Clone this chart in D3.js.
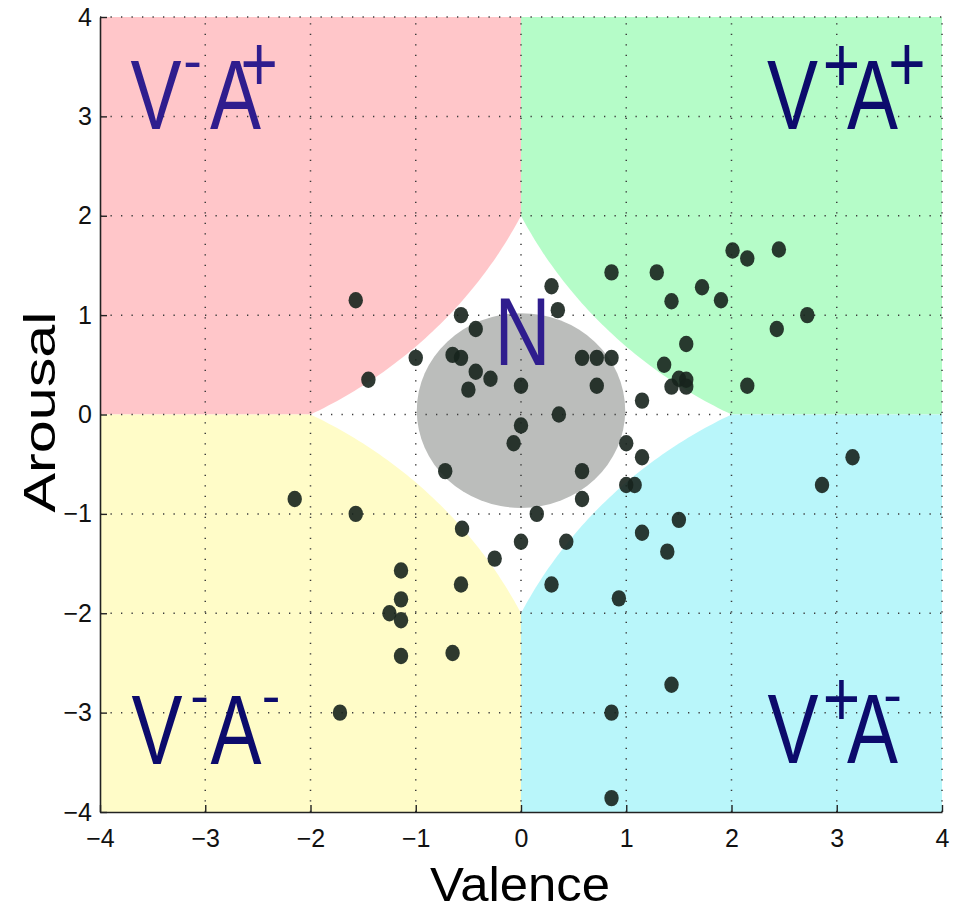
<!DOCTYPE html>
<html>
<head>
<meta charset="utf-8">
<script src="https://cdn.jsdelivr.net/npm/d3@7"></script>
<style>
  body { margin: 0; background: #fff; }
  text { font-family: "Liberation Sans", Arial, sans-serif; }
</style>
</head>
<body>
<script>
// valence / arousal of each sample
const valence = [-1.57, -1.45, -1.0, -0.57, -0.43, -0.65, -0.57, -0.43, -0.29, -0.50,
  0.0, 0.29, 0.35, 0.58, 0.72, 0.86, 0.72, 1.15, 0.36, 0.0,
  -0.07, -0.72, 0.58, 1.0, 1.15, 1.0, 1.08, 0.58, 0.15, -0.56,
  0.0, 0.43, 1.15, -0.25, 0.29, -0.57, -1.14, -1.14, 0.93, -1.57,
  -2.15, -1.25, -1.14, -1.14, -0.65, -1.72, 0.86, 1.29, 2.01, 2.15,
  2.45, 1.72, 1.43, 1.90, 2.72, 2.43, 1.57, 1.36, 1.50, 1.57,
  1.43, 1.57, 2.15, 3.15, 2.86, 1.50, 1.39, 1.43, 0.86, 0.86]
const arousal = [1.15, 0.35, 0.57, 1.0, 0.86, 0.60, 0.57, 0.43, 0.36, 0.25,
  0.29, 1.29, 1.05, 0.57, 0.57, 0.57, 0.29, 0.14, 0.0, -0.11,
  -0.29, -0.57, -0.57, -0.29, -0.43, -0.71, -0.71, -0.85, -1.0, -1.15,
  -1.28, -1.28, -1.19, -1.45, -1.71, -1.71, -1.57, -1.86, -1.85, -1.0,
  -0.85, -2.0, -2.07, -2.43, -2.40, -3.0, 1.43, 1.43, 1.65, 1.57,
  1.66, 1.28, 1.14, 1.15, 1.0, 0.86, 0.71, 0.50, 0.36, 0.35,
  0.28, 0.28, 0.29, -0.43, -0.71, -1.06, -1.38, -2.72, -3.0, -3.86]

const ticks = [-4, -3, -2, -1, 0, 1, 2, 3, 4]

// quadrants: sign of valence, sign of arousal
const quadSx = [-1, 1, -1, 1]
const quadSy = [1, 1, -1, -1]
const quadColors = ["#ffc6c9", "#b5fcc8", "#fffcc8", "#b9f6fa"]
const quadSup1 = ["-", "+", "-", "+"]
const quadSup2 = ["+", "+", "-", "-"]

const W = 959, H = 911
const m = {left: 100, right: 17, top: 17, bottom: 99}

const svg = d3.select("body").append("svg").attr("width", W).attr("height", H)

const x = d3.scaleLinear().domain([-4, 4]).range([m.left, W - m.right])
const y = d3.scaleLinear().domain([-4, 4]).range([H - m.bottom, m.top])

// coloured quadrants, each cut by a circle around its outer corner
const R = Math.sqrt(20)
const line = d3.line().x(d => x(d[0])).y(d => y(d[1]))
for (let i = 0; i < 4; i++) {
    let sx = quadSx[i], sy = quadSy[i]
    let cx = sx * 4, cy = sy * 4
    let pts = [[cx, cy], [0, cy]]
    let a0 = Math.atan2(-2 * sy, -4 * sx)
    let a1 = Math.atan2(-4 * sy, -2 * sx)
    for (let k = 0; k <= 60; k++) {
        let a = a0 + (a1 - a0) * k / 60
        pts.push([cx + R * Math.cos(a), cy + R * Math.sin(a)])
    }
    pts.push([cx, 0])
    svg.append("path").attr("d", line(pts) + "Z").attr("fill", quadColors[i])
}

// neutral disc
svg.append("ellipse")
    .attr("cx", x(0)).attr("cy", y(0.04))
    .attr("rx", x(0.99) - x(0)).attr("ry", y(0) - y(0.98))
    .attr("fill", "#bbbdbb")

// dotted grid
const grid = svg.append("g").attr("stroke", "#3a3a3a").attr("stroke-width", 1.5)
    .attr("stroke-dasharray", "1.3,9.2")
grid.selectAll(".gx").data(ticks.slice(1)).join("line")
    .attr("x1", d => x(d)).attr("x2", d => x(d)).attr("y1", y(-4)).attr("y2", y(4))
grid.selectAll(".gy").data(ticks.slice(1)).join("line")
    .attr("y1", d => y(d)).attr("y2", d => y(d)).attr("x1", x(-4)).attr("x2", x(4))

// quadrant labels
const labelPos = [[-3.467, 2.873], [2.579, 2.873], [-3.458, -3.519], [2.584, -3.509]]
const labelCols = ["#2f1d8e", "#0c0b6c", "#0c0b6c", "#0c0b6c"]
const sup1Dx = [36.5, 49, 42.5, 48.5]
const aDx = [79.5, 80, 79, 79.5]
const sup2Dx = [103, 114.5, 114, 99.5]
const sqx = 0.78

let glyph = (g, t, dx, base, fs, sxScale) => {
    g.append("text").attr("transform", `translate(${dx},${base}) scale(${sxScale},1)`)
        .attr("text-anchor", "middle").attr("font-size", fs).text(t)
}
let sup = (g, t, dx, cyOff) => {
    if (t === "+") glyph(g, "+", dx, cyOff + 29, 80, 0.8)
    else glyph(g, "-", dx, cyOff + 15, 56, 1)
}
for (let i = 0; i < 4; i++) {
    let g = svg.append("g").attr("fill", labelCols[i])
        .attr("transform", `translate(${x(labelPos[i][0])},${y(labelPos[i][1])})`)
    glyph(g, "V", 0, 0, 98, sqx)
    sup(g, quadSup1[i], sup1Dx[i], quadSup1[i] === "+" ? -66 : -64)
    glyph(g, "A", aDx[i], 0, 98, sqx)
    sup(g, quadSup2[i], sup2Dx[i], quadSup2[i] === "+" ? -67 : -64)
}
svg.append("text").attr("fill", "#2f1d8e")
    .attr("transform", `translate(${x(0.015)},${y(0.499)}) scale(0.8,1)`)
    .attr("text-anchor", "middle").attr("font-size", 97).text("N")

// samples
svg.append("g").selectAll("ellipse").data(valence).join("ellipse")
    .attr("cx", (d, i) => x(d)).attr("cy", (d, i) => y(arousal[i]))
    .attr("rx", 7.2).attr("ry", 8.2)
    .attr("fill", "#17231d").attr("fill-opacity", 0.9)

// axes
const fmt = d3.format("d")
const xAxis = svg.append("g").attr("transform", `translate(0,${y(-4)})`)
    .call(d3.axisBottom(x).tickValues(ticks).tickFormat(fmt).tickSizeInner(-7).tickSizeOuter(0).tickPadding(17))
const yAxis = svg.append("g").attr("transform", `translate(${x(-4)},0)`)
    .call(d3.axisLeft(y).tickValues(ticks).tickFormat(fmt).tickSizeInner(-7).tickSizeOuter(0).tickPadding(8))
for (const a of [xAxis, yAxis]) {
    a.select(".domain").attr("stroke", "#222").attr("stroke-width", 1.6)
    a.selectAll(".tick line").attr("stroke", "#222").attr("stroke-width", 1.4)
    a.selectAll(".tick text").attr("font-size", 25).attr("fill", "#111")
        .attr("font-family", "Liberation Sans, Arial, sans-serif")
}

// axis titles
svg.append("text").attr("x", 520).attr("y", 901).attr("text-anchor", "middle")
    .attr("font-family", "DejaVu Sans").attr("font-size", 48)
    .attr("textLength", 180).attr("lengthAdjust", "spacingAndGlyphs").attr("fill", "#000")
    .text("Valence")
svg.append("text").attr("transform", "translate(55,412) rotate(-90)").attr("text-anchor", "middle")
    .attr("font-family", "DejaVu Sans").attr("font-size", 45)
    .attr("textLength", 201).attr("lengthAdjust", "spacingAndGlyphs").attr("fill", "#000")
    .text("Arousal")
</script>
</body>
</html>
